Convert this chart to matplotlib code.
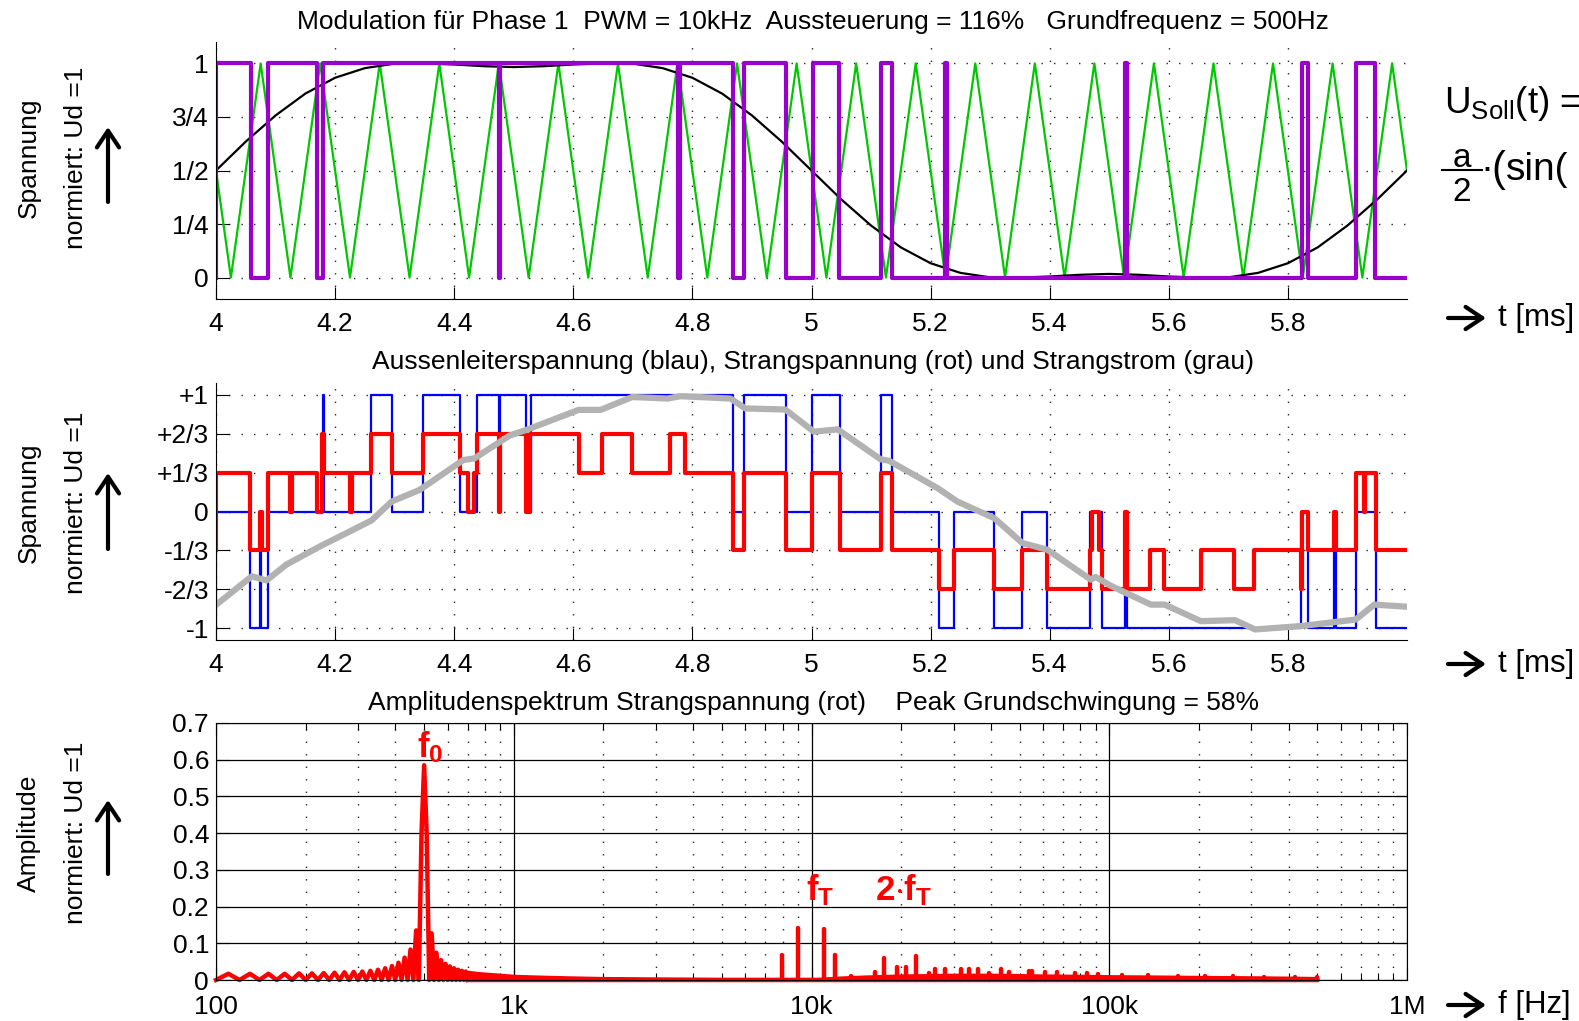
import numpy as np
import matplotlib
matplotlib.use('Agg')
import matplotlib.pyplot as plt
from matplotlib.patches import FancyArrowPatch
from matplotlib.lines import Line2D
from matplotlib.ticker import FixedLocator, NullFormatter

plt.rcParams['font.family'] = ['Liberation Sans', 'DejaVu Sans']
plt.rcParams['mathtext.fontset'] = 'custom'
plt.rcParams['mathtext.rm'] = 'Liberation Sans'
plt.rcParams['mathtext.it'] = 'Liberation Sans:italic'
plt.rcParams['mathtext.bf'] = 'Liberation Sans:bold'

# ---------------- Panel 1: modulation phase 1 ----------------
# carrier (triangle, 10 kHz) vertices
carrier_t = [4.0, 4.025, 4.075, 4.125, 4.175, 4.225, 4.275, 4.325, 4.375, 4.425, 4.475,
             4.525, 4.575, 4.625, 4.675, 4.725, 4.775, 4.825, 4.875, 4.925, 4.975,
             5.025, 5.075, 5.125, 5.175, 5.225, 5.275, 5.325, 5.375, 5.425, 5.475,
             5.525, 5.575, 5.625, 5.675, 5.725, 5.775, 5.825, 5.875, 5.925, 5.975, 6.0]
carrier_v = [0.5] + [0, 1] * 20 + [0.5]

# reference U_soll (black)
ref_t = [4.00, 4.05, 4.10, 4.15, 4.20, 4.25, 4.30, 4.35, 4.40, 4.45, 4.50,
         4.55, 4.60, 4.65, 4.70, 4.75, 4.80, 4.85, 4.90, 4.95, 5.00,
         5.05, 5.10, 5.15, 5.20, 5.25, 5.30, 5.35, 5.40, 5.45, 5.50,
         5.55, 5.60, 5.65, 5.70, 5.75, 5.80, 5.85, 5.90, 5.95, 6.00]
ref_v = [0.500, 0.635, 0.757, 0.859, 0.933, 0.978, 0.999, 1.000, 0.995, 0.987, 0.983,
         0.987, 0.995, 1.000, 0.999, 0.978, 0.933, 0.859, 0.757, 0.635, 0.500,
         0.365, 0.243, 0.141, 0.067, 0.022, 0.001, 0.000, 0.005, 0.013, 0.017,
         0.013, 0.005, 0.000, 0.001, 0.022, 0.067, 0.141, 0.243, 0.365, 0.500]

# PWM output (purple), switching times and new level
pwm_t = [4.000, 4.000, 4.058, 4.088, 4.170, 4.179, 4.476, 4.4775, 4.776, 4.779,
         4.868, 4.887, 4.958, 5.002, 5.047, 5.116, 5.136, 5.225, 5.228, 5.527,
         5.530, 5.824, 5.833, 5.915, 5.947, 6.000]
pwm_v = [0, 1, 0, 1, 0, 1, 0, 1, 0, 1,
         0, 1, 0, 1, 0, 1, 0, 1, 0, 1,
         0, 1, 0, 1, 0, 0]

# ---------------- Panel 2: voltages and current ----------------
line_t = [4.000, 4.000, 4.057, 4.074, 4.076, 4.088, 4.179, 4.181, 4.260, 4.295,
          4.347, 4.410, 4.438, 4.476, 4.4775, 4.521, 4.529, 4.868, 4.886, 4.958,
          5.001, 5.048, 5.116, 5.136, 5.214, 5.239, 5.306, 5.354, 5.396, 5.468,
          5.487, 5.527, 5.530, 5.822, 5.834, 5.878, 5.880, 5.914, 5.948, 6.000]
line_v = [-1, 0, -1, 0, -1, 0, 1, 0, 1, 0,
          1, 0, 1, 0, 1, 0, 1, 0, 1, 0,
          1, 0, 1, 0, -1, 0, -1, 0, -1, 0,
          -1, 0, -1, 0, -1, 0, -1, 0, -1, -1]

# phase voltage in thirds of Ud
phase_t = [4.000, 4.000, 4.057, 4.074, 4.077, 4.088, 4.124, 4.127, 4.169, 4.178,
           4.181, 4.225, 4.228, 4.260, 4.295, 4.347, 4.410, 4.424, 4.434, 4.438,
           4.476, 4.4775, 4.521, 4.528, 4.609, 4.648, 4.698, 4.763, 4.787, 4.868,
           4.886, 4.958, 5.001, 5.048, 5.116, 5.136, 5.214, 5.239, 5.306, 5.354,
           5.396, 5.467, 5.471, 5.482, 5.487, 5.527, 5.530, 5.569, 5.592, 5.654,
           5.710, 5.743, 5.822, 5.824, 5.834, 5.878, 5.880, 5.914, 5.928, 5.930,
           5.948, 6.000]
phase_v3 = [-1, 1, -1, 0, -1, 1, 0, 1, 0, 2,
            1, 0, 1, 2, 1, 2, 1, 0, 1, 2,
            0, 2, 0, 2, 1, 2, 1, 2, 1, -1,
            1, -1, 1, -1, 1, -1, -2, -1, -2, -1,
            -2, -1, 0, -1, -2, 0, -2, -1, -2, -1,
            -2, -1, -2, 0, -1, 0, -1, 1, 0, 1,
            -1, -1]

# phase current (grey)
cur_t = [4.000, 4.060, 4.085, 4.118, 4.174, 4.219, 4.261, 4.295, 4.342, 4.415,
         4.434, 4.493, 4.522, 4.609, 4.646, 4.699, 4.758, 4.780, 4.864, 4.889,
         4.956, 5.004, 5.044, 5.116, 5.130, 5.212, 5.245, 5.307, 5.354, 5.396,
         5.469, 5.477, 5.502, 5.528, 5.570, 5.593, 5.654, 5.711, 5.745, 5.823,
         5.914, 5.945, 6.000]
cur_v = [-0.80, -0.555, -0.59, -0.455, -0.30, -0.185, -0.077, 0.085, 0.185, 0.44,
         0.455, 0.65, 0.70, 0.87, 0.87, 0.98, 0.967, 0.987, 0.967, 0.882,
         0.873, 0.683, 0.703, 0.447, 0.435, 0.199, 0.085, -0.057, -0.27, -0.327,
         -0.583, -0.56, -0.634, -0.697, -0.797, -0.797, -0.939, -0.93, -1.01, -0.98,
         -0.925, -0.797, -0.815]

# ---------------- Panel 3: spectrum ----------------
lobe_f = [100, 110, 120, 130, 140, 150, 160, 170, 180, 190,
          200, 210, 220, 230, 240, 250, 260, 270, 280, 290,
          300, 310, 320, 330, 340, 350, 360, 370, 380, 390,
          400, 410, 420, 430, 440, 450, 460, 470, 480, 490,
          500, 510, 520, 530, 540, 550, 560, 570, 580, 590,
          600, 610, 620, 630, 640, 650, 660, 670, 680, 690, 700]
lobe_a = [0, 0.017, 0, 0.017, 0, 0.017, 0, 0.017, 0, 0.018,
          0, 0.018, 0, 0.019, 0, 0.020, 0, 0.021, 0, 0.022,
          0, 0.023, 0, 0.025, 0, 0.028, 0, 0.032, 0, 0.038,
          0, 0.047, 0, 0.061, 0, 0.083, 0, 0.135, 0, 0.40,
          0.585, 0.40, 0, 0.127, 0, 0.074, 0, 0.054, 0, 0.044,
          0, 0.037, 0, 0.032, 0, 0.028, 0, 0.025, 0, 0.023, 0]

floor_f = [700, 750, 800, 900, 1000, 1200, 1500, 2000, 3000, 5000,
           7000, 9500, 10500, 13000, 15000, 20000, 25000, 30000, 40000, 50000,
           60000, 80000, 100000, 150000, 200000, 300000, 400000, 500000]
floor_a = [0.022, 0.019, 0.017, 0.014, 0.011, 0.009, 0.007, 0.005, 0.004, 0.003,
           0.003, 0.003, 0.003, 0.007, 0.009, 0.012, 0.013, 0.014, 0.014, 0.013,
           0.012, 0.011, 0.010, 0.009, 0.008, 0.007, 0.006, 0.005]

peak_f = [7950, 9000, 11000, 12000, 13600, 16300, 17500, 19300, 20700, 22500,
          24900, 25900, 28000, 31800, 33700, 36300, 39500, 43200, 46000, 53700,
          55000, 61000, 67000, 77000, 84000, 92000, 110000, 135000, 170000, 210000,
          260000, 330000, 420000, 500000]
peak_a = [0.067, 0.141, 0.140, 0.068, 0.010, 0.022, 0.061, 0.035, 0.035, 0.065,
          0.020, 0.031, 0.029, 0.029, 0.031, 0.029, 0.020, 0.029, 0.022, 0.024,
          0.025, 0.022, 0.022, 0.020, 0.018, 0.016, 0.014, 0.013, 0.012, 0.011,
          0.010, 0.009, 0.008, 0.008]

t_ticks = [4.0, 4.2, 4.4, 4.6, 4.8, 5.0, 5.2, 5.4, 5.6, 5.8]
t_labels = ['4', '4.2', '4.4', '4.6', '4.8', '5', '5.2', '5.4', '5.6', '5.8']
mod_ticks = [0, 0.25, 0.5, 0.75, 1]
mod_labels = ['0', '1/4', '1/2', '3/4', '1']
volt_ticks = [-1, -2/3, -1/3, 0, 1/3, 2/3, 1]
volt_labels = ['-1', '-2/3', '-1/3', '0', '+1/3', '+2/3', '+1']
f_ticks = [1e2, 1e3, 1e4, 1e5, 1e6]
f_labels = ['100', '1k', '10k', '100k', '1M']
amp_ticks = [0, 0.1, 0.2, 0.3, 0.4, 0.5, 0.6, 0.7]
amp_labels = ['0', '0.1', '0.2', '0.3', '0.4', '0.5', '0.6', '0.7']

W, H = 1579, 1021
FS = 19
fig = plt.figure(figsize=(W / 100, H / 100), dpi=100)


def box(l, t, r, b):
    return [l / W, 1 - b / H, (r - l) / W, (b - t) / H]


dotted = (0, (1, 8))

ax1 = fig.add_axes(box(216, 42, 1407, 299))
ax2 = fig.add_axes(box(216, 383, 1407, 640))
ax3 = fig.add_axes(box(216, 723, 1407, 980))

for ax in (ax1, ax2):
    ax.set_xlim(4, 6)
    ax.set_ylim(-1.1, 1.1)
    ax.set_xticks(t_ticks)
    ax.set_xticklabels(t_labels)
    ax.spines['top'].set_visible(False)
    ax.spines['right'].set_visible(False)
    ax.tick_params(direction='in', length=9, width=0.8, labelsize=FS)
    ax.tick_params(axis='x', pad=9)
    ax.tick_params(axis='y', pad=5)
    ax.grid(True, color='0.15', linestyle=dotted, linewidth=1)
    ax.set_axisbelow(True)

# panel 1
ax1.set_ylim(-0.1, 1.1)
ax1.set_yticks(mod_ticks)
ax1.set_yticklabels(mod_labels)
ax1.plot(carrier_t, carrier_v, color='#00C800', lw=1.6)
ax1.plot(ref_t, ref_v, color='black', lw=1.6)
ax1.step(pwm_t, pwm_v, where='post', color='#9900CC', lw=3)

# panel 2
ax2.set_yticks(volt_ticks)
ax2.set_yticklabels(volt_labels)
ax2.step(line_t, line_v, where='post', color='#0000FF', lw=1.6)
ax2.step(phase_t, np.array(phase_v3) / 3, where='post', color='#FF0000', lw=3)
ax2.plot(cur_t, cur_v, color='#B2B2B2', lw=4.5)

# panel 3
ax3.set_xscale('log')
ax3.set_xlim(100, 1e6)
ax3.set_ylim(0, 0.7)
ax3.xaxis.set_major_locator(FixedLocator(f_ticks))
ax3.set_xticklabels(f_labels)
ax3.xaxis.set_minor_locator(FixedLocator([m * d for d in (1e2, 1e3, 1e4, 1e5) for m in range(2, 10)]))
ax3.xaxis.set_minor_formatter(NullFormatter())
ax3.set_yticks(amp_ticks)
ax3.set_yticklabels(amp_labels)
ax3.tick_params(which='major', direction='in', length=9, width=0.8, labelsize=FS, top=True, right=True)
ax3.tick_params(axis='x', which='major', pad=10.5)
ax3.tick_params(axis='y', which='major', pad=5)
ax3.tick_params(which='minor', direction='in', length=5, width=0.8, top=True)
ax3.grid(True, which='major', color='black', linestyle='-', linewidth=0.9)
ax3.grid(True, which='minor', axis='x', color='0.15', linestyle=dotted, linewidth=1)
ax3.set_axisbelow(True)
ax3.fill_between(floor_f, 0, floor_a, color='#FF0000', lw=2.5, clip_on=False)
ax3.vlines(peak_f, 0, peak_a, color='#FF0000', lw=3.2, capstyle='round', clip_on=False)
ax3.plot(lobe_f, lobe_a, color='#FF0000', lw=3.2, clip_on=False)

ax3.text(472, 0.607, r'$\mathbf{f_0}$', color='#FF0000', fontsize=25, ha='left', va='baseline')
ax3.text(9600, 0.216, r'$\mathbf{f_T}$', color='#FF0000', fontsize=25, ha='left', va='baseline')
ax3.text(16300, 0.216, r'$\mathbf{2{\cdot}f_T}$', color='#FF0000', fontsize=25, ha='left', va='baseline')

# titles
fig.text(813 / W, 1 - 22 / H, 'Modulation für Phase 1  PWM = 10kHz  Aussteuerung = 116%   Grundfrequenz = 500Hz',
         fontsize=FS, ha='center', va='center')
fig.text(813 / W, 1 - 362 / H, 'Aussenleiterspannung (blau), Strangspannung (rot) und Strangstrom (grau)',
         fontsize=FS, ha='center', va='center')
fig.text(813 / W, 1 - 703 / H, 'Amplitudenspektrum Strangspannung (rot)    Peak Grundschwingung = 58%',
         fontsize=FS, ha='center', va='center')

# y labels with arrows
ylab = [('Spannung', 158, 127, 202), ('Spannung', 503, 473, 549), ('Amplitude', 833, 800, 874)]
for name, yc, ytip, ytail in ylab:
    fig.text(28.5 / W, 1 - yc / H, name, fontsize=FS, rotation=90, ha='center', va='center')
    fig.text(76 / W, 1 - yc / H, 'normiert: Ud =1', fontsize=FS, rotation=90, ha='center', va='center')
    fig.add_artist(FancyArrowPatch((108 / W, 1 - ytail / H), (108 / W, 1 - ytip / H),
                                   transform=fig.transFigure, arrowstyle='->,head_length=0.6,head_width=0.4',
                                   mutation_scale=20, lw=3, color='black', shrinkA=0, shrinkB=0))

# x labels with arrows
xlab = [('t [ms]', 318), ('t [ms]', 664), ('f [Hz]', 1005)]
for name, yc in xlab:
    fig.add_artist(FancyArrowPatch((1448 / W, 1 - yc / H), (1486 / W, 1 - yc / H),
                                   transform=fig.transFigure, arrowstyle='->,head_length=0.6,head_width=0.4',
                                   mutation_scale=20, lw=3, color='black', shrinkA=0, shrinkB=0))
    fig.text(1498 / W, 1 - yc / H, name, fontsize=22.5, ha='left', va='center')

# formula on the right (the second line is cut by the figure edge)
fig.text(1444 / W, 1 - 113 / H, r'U$_{\mathrm{Soll}}$(t) =', fontsize=26.5, ha='left', va='baseline')
fig.text(1462 / W, 1 - 167 / H, 'a', fontsize=24, ha='center', va='baseline')
fig.text(1462 / W, 1 - 201 / H, '2', fontsize=24, ha='center', va='baseline')
fig.add_artist(Line2D([1442 / W, 1482 / W], [1 - 170 / H, 1 - 170 / H], transform=fig.transFigure,
                      color='black', lw=1.5))
fig.text(1480.5 / W, 1 - 180 / H, '·', fontsize=28, ha='left', va='baseline')
fig.text(1491.5 / W, 1 - 181 / H, '(', fontsize=30, ha='left', va='baseline')
fig.text(1505.5 / W, 1 - 180 / H, 'sin(', fontsize=28, ha='left', va='baseline')

fig.savefig('out.png', dpi=100)
